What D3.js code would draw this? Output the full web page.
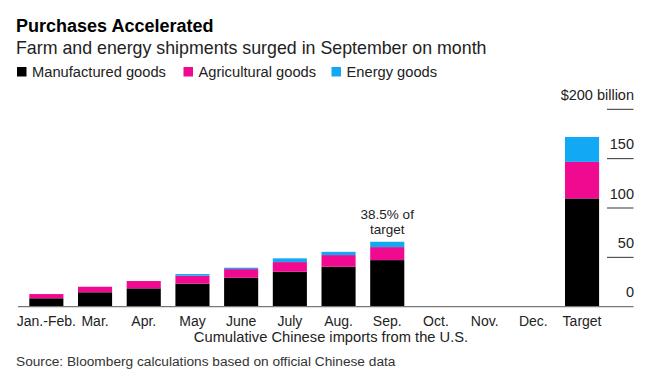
<!DOCTYPE html>
<html>
<head>
  <meta charset="utf-8">
  <title>Purchases Accelerated</title>
  <script src="https://d3js.org/d3.v7.min.js"></script>
  <style>
    body { margin: 0; background: #fff; }
    text { font-family: "Liberation Sans", Arial, sans-serif; }
  </style>
</head>

<body>
<div id="chart"></div>
<script type="text/javascript">
  let w = 649;
  let h = 390;

  let months = ['Jan.-Feb.', 'Mar.', 'Apr.', 'May', 'June', 'July', 'Aug.', 'Sep.', 'Oct.', 'Nov.', 'Dec.', 'Target'];
  // cumulative, $ billion; empty months have no bar
  let manufactured = [8.5, 14.6, 18.6, 23.3, 29.3, 35.4, 40.5, 47.2, 0, 0, 0, 109.7];
  let agricultural = [4.3, 5.6, 7.4, 8.1, 8.8, 9.8, 11.8, 13.2, 0, 0, 0, 37.0];
  let energy       = [0, 0, 0, 1.7, 1.4, 3.8, 3.3, 5.4, 0, 0, 0, 25.3];
  let seriesNames = ['Manufactured goods', 'Agricultural goods', 'Energy goods'];
  let colors = ['#000000', '#ef0a8f', '#12a8f4'];
  let yTicks = [0, 50, 100, 150, 200];

  let rows = months.map((m, i) => ({
    month: m, m: manufactured[i], a: agricultural[i], e: energy[i]
  }));

  let xScale = d3.scaleBand()
                .domain(months)
                .range([22, 606.4])
                .paddingInner(0.3)
                .paddingOuter(0.15);

  let yScale = d3.scaleLinear()
                .domain([0, 200])
                .range([306.7, 109.3]);

  let svg = d3.select('#chart')
              .append('svg')
              .attr('width', w)
              .attr('height', h);

  // titles
  svg.append('text')
     .attr('x', 16).attr('y', 31.5)
     .attr('font-size', '18px').attr('font-weight', 'bold')
     .attr('fill', '#000')
     .text('Purchases Accelerated');
  svg.append('text')
     .attr('x', 16).attr('y', 53.5)
     .attr('font-size', '17.8px')
     .attr('fill', '#222')
     .text('Farm and energy shipments surged in September on month');

  // legend
  let legendX = [17, 183.5, 331.5];
  seriesNames.forEach((name, i) => {
    svg.append('rect')
       .attr('x', legendX[i]).attr('y', 67)
       .attr('width', 9.5).attr('height', 9.5)
       .attr('fill', colors[i]);
    svg.append('text')
       .attr('x', legendX[i] + 15).attr('y', 76.5)
       .attr('font-size', '14.7px')
       .attr('fill', '#222')
       .text(name);
  });

  // stacked bars
  let stack = d3.stack().keys(['m', 'a', 'e']);
  let layers = stack(rows);

  svg.append('g')
     .selectAll('g')
     .data(layers)
     .enter()
     .append('g')
     .attr('fill', (d, i) => colors[i])
     .selectAll('rect')
     .data(d => d)
     .enter()
     .append('rect')
     .attr('x', d => xScale(d.data.month))
     .attr('y', d => yScale(d[1]))
     .attr('width', xScale.bandwidth())
     .attr('height', d => yScale(d[0]) - yScale(d[1]));

  // y ticks on the right, labels sitting above the tick lines
  let yg = svg.append('g');
  yg.selectAll('line')
    .data(yTicks.filter(t => t > 0))
    .enter()
    .append('line')
    .attr('x1', 607).attr('x2', 633.5)
    .attr('y1', d => yScale(d)).attr('y2', d => yScale(d))
    .attr('stroke', '#333')
    .attr('stroke-width', 1);
  yg.selectAll('text')
    .data(yTicks)
    .enter()
    .append('text')
    .attr('x', 634)
    .attr('y', d => yScale(d) - 9.5)
    .attr('text-anchor', 'end')
    .attr('font-size', '14.5px')
    .attr('fill', '#222')
    .text(d => d === 200 ? '$200 billion' : d);

  // baseline
  svg.append('line')
     .attr('x1', 18).attr('x2', 633.5)
     .attr('y1', yScale(0)).attr('y2', yScale(0))
     .attr('stroke', '#777')
     .attr('stroke-width', 1.2);

  // x axis labels
  let xAxis = d3.axisBottom(xScale).tickSize(0).tickPadding(9);
  let xg = svg.append('g')
              .attr('transform', `translate(0,${yScale(0)})`)
              .call(xAxis);
  xg.select('.domain').remove();
  xg.selectAll('text')
    .attr('font-family', '"Liberation Sans", Arial, sans-serif')
    .attr('font-size', '14px')
    .attr('fill', '#222');

  svg.append('text')
     .attr('x', 331).attr('y', 342)
     .attr('text-anchor', 'middle')
     .attr('font-size', '14.7px')
     .attr('fill', '#222')
     .text('Cumulative Chinese imports from the U.S.');

  // annotation over September
  let sepX = xScale('Sep.') + xScale.bandwidth() / 2;
  svg.append('text')
     .attr('x', sepX).attr('y', 219)
     .attr('text-anchor', 'middle')
     .attr('font-size', '13.5px')
     .attr('fill', '#222')
     .text('38.5% of');
  svg.append('text')
     .attr('x', sepX).attr('y', 234)
     .attr('text-anchor', 'middle')
     .attr('font-size', '13.5px')
     .attr('fill', '#222')
     .text('target');

  // source
  svg.append('text')
     .attr('x', 16).attr('y', 366)
     .attr('font-size', '13.7px')
     .attr('fill', '#333')
     .text('Source: Bloomberg calculations based on official Chinese data');
</script>
</body>
</html>
